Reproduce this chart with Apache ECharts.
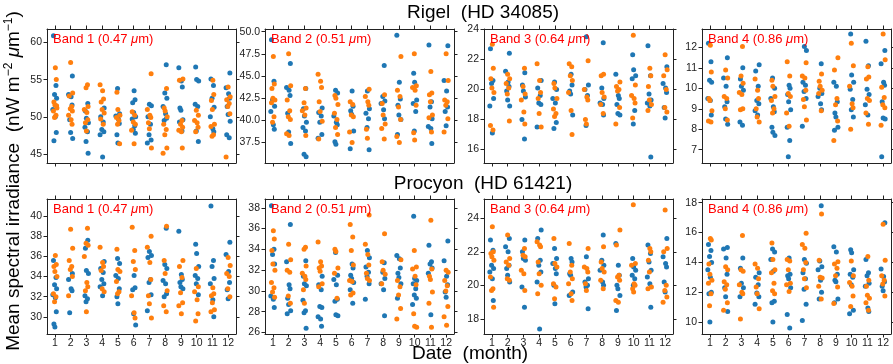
<!DOCTYPE html>
<html><head><meta charset="utf-8">
<script src="https://cdn.jsdelivr.net/npm/echarts@6/dist/echarts.min.js"></script>
<style>html,body{margin:0;padding:0;background:#fff}#c{width:893px;height:364px}</style>
</head><body><div id="c"></div>
<script>
const months = [1,2,3,4,5,6,7,8,9,10,11,12];
const monthTicks = [1,2,3,4,5,6,7,8,9,10,11,12];
const jitter = [-0.09, 0.07, -0.02, 0.11, -0.13, 0.03, 0.09, -0.06, 0.00, 0.13];

// Rigel (HD 34085)
const rigelB1Blue = [[60.9,54.2,53.0,52.5,51.0,50.0,47.9,46.8],[55.5,53.0,52.7,51.6,49.6,47.9,47.1],[51.8,50.8,49.8,49.2,48.6,48.0,46.7,45.1],[51.2,50.0,49.3,48.3,48.0,47.6,44.6],[53.8,50.4,50.1,49.7,49.1,47.6,46.5],[53.5,52.3,51.9,50.6,50.0,49.7,48.8,48.3,47.8],[51.7,51.5,50.0,49.0,47.6,46.9,46.5],[57.0,53.2,52.5,51.4,50.4,49.8,49.5],[56.6,54.8,54.0,51.2,50.9,49.6,49.3,48.1],[56.7,55.0,54.8,51.7,51.4,48.1,46.7],[55.1,54.2,52.5,51.3,50.0,48.4,48.0],[55.9,53.9,53.1,52.5,51.4,50.3,49.4,47.6,47.2]];
const rigelB1Orange = [[56.6,55.0,52.0,51.6,51.2,50.8,50.2,49.9,51.5],[57.3,53.2,52.8,51.4,51.1,50.8,50.2,49.6,49.0],[54.3,53.9,51.4,51.0,50.6,49.6,49.2,48.1],[54.3,53.5,52.4,52.0,51.0,50.5,49.7,49.0],[53.3,51.0,50.2,49.9,49.5,49.0,46.4],[50.7,50.2,49.3,49.0,48.2,46.4],[55.8,51.0,50.2,49.9,49.2,48.4,45.8],[53.8,51.2,50.8,50.0,49.0,48.3,47.6,45.8,45.1],[55.1,54.9,49.5,49.0,48.6,48.2,48.0,45.8],[50.9,50.2,49.5,49.2,48.6,48.0],[54.9,53.0,52.2,51.0,49.0,48.7,47.6,47.4],[54.0,52.7,52.3,51.8,51.4,50.4,44.6]];
const rigelB2Blue = [[49.1,44.4,42.3,41.6,41.0,39.5,39.0],[46.4,43.7,43.4,42.8,40.8,38.7,37.4],[43.6,41.3,40.5,39.8,39.2,38.8,36.2,35.9],[41.4,40.9,40.5,39.8,38.4,38.0],[43.4,43.1,40.5,39.8,39.5,37.6,37.3],[43.3,41.6,41.1,40.7,38.8,36.8],[43.3,41.3,40.8,40.2,39.2,36.7],[46.2,42.7,42.2,41.9,41.2,40.2],[49.6,44.3,42.4,41.7,40.6,40.1,38.4],[45.3,44.3,42.3,41.9,41.0,38.8],[48.5,42.1,41.5,40.2,39.3,39.1,37.4],[48.4,44.5,43.3,41.5,41.0,39.4]];
const rigelB2Orange = [[47.2,44.1,43.6,42.5,42.3,42.0,40.4,39.8],[47.5,43.9,42.3,41.1,40.4,40.1,38.5,38.3],[43.6,42.0,41.4,41.1,40.6,38.3],[45.2,44.4,43.7,42.1,41.0,39.9,37.9],[42.8,42.5,41.8,40.8,40.1,39.2,38.4],[42.1,41.8,40.6,40.4,38.7,37.5],[43.5,42.7,42.1,41.7,39.0,38.0],[42.9,41.9,40.6,39.6,39.1,37.9],[47.2,43.4,42.7,41.5,40.1,38.2,37.5],[47.5,43.9,43.7,43.4,41.7,38.6,37.8],[45.5,43.1,42.9,42.1,40.6,40.3,38.7],[47.5,44.5,42.3,42.1,41.7,40.2,38.7]];
const rigelB3Blue = [[22.7,20.6,20.4,19.4,18.9,17.1],[22.4,21.2,20.5,20.2,19.9,19.3,18.9],[21.1,20.3,19.9,19.5,18.0,16.7],[20.6,20.1,19.6,19.1,19.0,17.5],[20.5,20.0,19.4,19.1,17.8,17.4],[21.0,20.3,19.9,19.7,18.3],[23.5,20.3,20.0,19.6,17.6],[23.1,20.1,19.4,19.1,19.0,18.3],[21.0,19.6,19.4,19.0,18.4,18.3],[22.3,21.3,20.9,20.7,18.6,17.7],[22.9,20.9,19.7,19.3,19.1,18.9,15.5],[21.5,20.4,20.1,19.8,18.8,18.1]];
const rigelB3Orange = [[23.0,21.4,20.7,20.1,19.8,17.6,17.3],[21.0,20.7,20.4,20.1,19.7,17.9],[21.4,20.2,19.7,19.3,18.5,17.7],[21.7,20.6,19.8,19.4,18.4,17.5],[20.4,20.1,19.4,18.7,18.4,18.2],[21.7,21.5,20.9,20.6,19.8,18.6,17.0],[21.9,20.0,19.5,19.3,18.0,17.7],[21.0,20.9,19.8,19.5,19.0,18.4],[20.5,20.2,20.0,19.9,18.8,17.7],[23.6,20.3,19.6,19.4,19.1,18.1],[21.4,20.9,20.2,19.3,19.0,18.6],[22.3,21.3,20.9,20.0,18.8,18.5]];
const rigelB4Blue = [[12.2,11.3,10.4,10.3,9.5,9.4,8.7],[11.5,10.5,10.1,9.35,9.1,8.5,8.25],[11.0,10.45,10.1,9.9,8.35,8.2],[11.15,10.85,10.1,9.4,9.25,8.9,8.7],[10.5,10.0,9.5,9.1,8.85,8.1,7.85,7.7],[10.15,10.0,9.7,9.35,8.95,8.1,7.45,6.65],[12.05,11.85,10.3,10.15,9.85,9.5,8.15],[11.2,10.0,9.75,9.6,9.25,8.95],[10.3,10.1,9.35,8.8,8.6,8.1,7.95],[12.65,10.65,10.3,9.95,9.45,8.95,8.6],[12.3,11.1,9.95,9.7,9.2,8.7],[11.85,11.2,10.3,10.15,9.35,8.55,8.5,6.65]];
const rigelB4Orange = [[12.1,10.8,9.5,9.4,8.9,8.4,8.35],[10.9,10.5,9.6,9.5,9.0,8.45],[12.05,10.6,10.25,9.8,9.7,9.0,8.95],[10.45,9.9,9.5,9.0,8.6,8.35],[10.4,10.1,9.6,9.4,9.0,8.8],[11.3,10.6,9.75,9.6,8.8,8.15],[11.25,10.6,10.5,9.9,9.45,9.1,8.45],[10.7,10.35,10.1,9.9,9.75,8.9],[11.5,10.9,9.5,9.2,8.4,7.45],[12.2,11.1,10.1,9.25,9.05,8.0],[11.05,10.55,10.45,9.5,9.4,8.8,8.25],[12.65,11.4,10.05,9.55,9.2,9.05,8.2]];

// Procyon (HD 61421)
const procyonB1Blue = [[35.6,33.9,33.2,32.8,32.2,31.9,30.5,29.3,29.0],[34.3,33.7,32.8,32.6,30.4],[37.6,36.8,34.6,34.3,32.1,31.8,31.5],[35.5,34.8,34.4,33.7,33.3,33.0,32.1],[35.8,35.3,34.1,33.8,32.8,32.0,31.3],[34.1,32.9,32.7,30.3,29.2],[36.5,36.1,35.9,33.7,33.4,32.2,30.6],[38.8,35.2,34.8,33.6,33.3,32.3,32.0],[38.5,34.2,33.7,33.4,33.0,32.8],[37.2,36.3,35.0,34.1,33.8,33.3,32.2],[41.0,35.6,35.0,33.8,33.3,31.7,30.0],[37.4,36.2,34.5,33.4,32.7,31.8]];
const procyonB1Orange = [[36.1,35.2,35.0,34.5,34.0,32.3,32.0,31.5],[38.7,36.8,35.6,35.0,34.7,34.0,32.1],[38.8,37.3,37.1,36.0,33.4,33.0,32.6,30.5],[36.9,35.4,35.0,34.6,32.8,32.5],[36.7,34.7,34.5,33.5,32.5,32.3],[38.9,36.6,35.5,34.7,32.1,30.4,29.9],[38.0,36.9,35.4,33.7,32.1,31.3,29.9],[39.0,35.6,34.3,32.6,31.1,30.5],[35.6,35.0,33.9,32.4,31.4,31.1,30.3],[34.8,33.0,32.5,31.7,30.3,29.6],[32.9,32.3,32.1,31.4,30.7,30.5],[35.9,35.1,34.3,34.0,32.8,32.0]];
const procyonB2Blue = [[38.2,34.0,33.5,32.6,29.5,29.2,28.4],[36.4,32.8,30.6,30.2,29.3,28.7,28.1,27.8],[32.9,31.4,30.7,30.5,29.1,28.1,27.9,26.4],[31.4,30.6,30.1,28.5,28.4,27.5,27.3,26.6],[33.7,31.5,31.1,30.6,29.2,29.0,27.7,27.6],[32.6,32.2,31.5,31.2,30.8,30.1,28.8],[33.9,33.2,32.3,31.8,31.4,30.7,29.2],[32.7,31.8,31.2,30.7,30.1,27.6],[33.4,33.1,32.2,31.7,31.3,30.7,29.3],[37.2,31.2,31.0,30.7,30.2,29.6,29.3,28.7],[34.4,32.8,32.6,32.2,31.7,27.7],[34.8,32.9,31.4,30.6,29.9,29.4]];
const procyonB2Orange = [[35.8,35.0,33.9,32.6,32.0,30.8,30.3,29.9,29.4],[34.5,33.0,32.0,31.8,29.5,28.8],[34.2,34.0,32.4,31.7,31.4,31.1,30.1,28.8],[34.7,32.8,32.4,32.2,31.9,30.7,30.4],[34.0,33.8,32.2,31.7,29.3],[36.4,35.2,33.9,32.5,31.0,30.9,29.8,29.6],[37.3,34.5,33.5,32.5,31.7,31.2,31.0],[35.5,32.8,32.0,31.6,30.7],[33.0,31.0,30.4,29.6,28.3,27.3],[33.9,32.3,32.1,31.4,30.6,27.8,26.6,26.5],[36.8,32.1,31.4,31.1,29.9,28.8,26.5],[32.0,31.8,31.0,30.5,30.0,28.5,27.5,26.7]];
const procyonB3Blue = [[22.7,22.1,21.2,21.0,20.8,20.4,19.1],[22.8,22.3,22.0,21.2,21.0,20.6,20.2],[22.7,22.0,21.6,21.5,19.9,18.7],[23.3,22.8,21.5,21.2,20.8,20.2,17.4],[22.2,21.6,21.3,21.0,20.7,20.0,18.9],[21.6,21.4,20.7,20.6,19.6,19.4],[21.7,20.4,20.2,20.0,19.9,18.6],[23.0,21.5,21.2,20.9,20.2,20.0],[22.5,21.2,20.6,20.0,19.8,19.4,18.5],[21.6,21.1,20.9,20.6,20.4,20.0],[22.4,21.9,21.4,20.9,20.5,20.1,18.7],[22.8,21.7,21.3,21.1,20.2,19.6]];
const procyonB3Orange = [[23.5,22.0,21.9,21.7,21.5,20.5,19.8,19.7,18.7],[23.0,21.6,21.4,21.2,20.4,20.3],[22.2,21.8,21.7,20.9,20.7,19.7],[22.6,22.4,22.3,21.4,20.7,20.0,19.5],[22.8,21.3,21.1,20.1,19.9,19.2],[22.5,21.2,20.8,20.4,20.1,19.5,19.1],[22.2,21.1,21.0,20.8,20.1,19.7],[22.3,21.4,21.0,20.8,20.3,19.8],[23.3,22.4,20.6,20.5,20.3,19.1,19.0],[24.8,21.3,21.2,20.1,20.0,19.8,19.6],[22.2,22.0,21.5,20.8,19.9,19.8],[24.5,22.2,22.0,20.0,19.7,19.3,19.0]];
const procyonB4Blue = [[15.2,14.8,14.4,14.0,13.5,13.0,12.0,11.9,10.0],[15.0,14.9,14.3,13.2,12.3,11.7,10.7],[14.3,13.6,12.6,12.3,11.7],[13.3,13.0,12.5,11.95,11.7,11.2],[14.9,14.7,14.2,13.4,11.4,11.3,10.0],[14.3,13.2,13.1,12.9,12.3,10.5,9.6],[14.2,13.95,13.3,12.9,12.2,11.2,10.1],[17.8,14.1,13.7,13.5,12.8,12.0,11.55],[15.05,14.7,13.2,12.8,12.7,11.55,11.3],[14.85,14.65,13.5,13.2,13.0,12.5,10.8,10.55],[14.2,13.3,13.1,12.6,12.4,10.95,10.7],[16.65,13.55,13.05,12.7,12.4,12.1]];
const procyonB4Orange = [[15.6,15.5,13.9,13.2,12.8,12.6,11.9,11.1],[13.7,13.5,12.7,12.5,12.2,11.3,10.8],[15.8,13.5,13.4,12.5,12.0,11.9,10.2],[13.9,13.6,12.9,12.35,11.9,10.9],[15.3,14.2,13.5,13.3,12.6,12.1,11.9],[14.2,14.1,13.5,12.6,12.5,12.05],[15.95,15.2,14.95,14.0,13.5,12.9,12.3],[17.25,14.15,13.0,12.95,12.4,11.55],[14.05,13.9,13.6,13.1,12.35,11.25],[14.1,13.1,12.65,12.4,11.75,11.05],[14.4,12.8,12.4,11.8,11.6,11.3,10.8],[16.55,14.15,13.1,12.8,12.55,11.75]];

// y tick labels
const rigelB1Ticks = [45,50,55,60];
const rigelB2Ticks = [37.5,40,42.5,45,47.5,50];
const rigelB3Ticks = [16,18,20,22,24];
const rigelB4Ticks = [7,8,9,10,11,12];
const procyonB1Ticks = [30,32,34,36,38,40];
const procyonB2Ticks = [26,28,30,32,34,36,38];
const procyonB3Ticks = [18,20,22,24];
const procyonB4Ticks = [10,12,14,16,18];

const bandNames = ['1','2','3','4'];
const bandWaves = ['0.47','0.51','0.64','0.86'];
const starTitles = ['Rigel  (HD 34085)','Procyon  (HD 61421)'];

const panels = [
  {b:rigelB1Blue,o:rigelB1Orange,t:rigelB1Ticks,min:43.8,max:61.8,dec:0},
  {b:rigelB2Blue,o:rigelB2Orange,t:rigelB2Ticks,min:35.2,max:50.3,dec:1},
  {b:rigelB3Blue,o:rigelB3Orange,t:rigelB3Ticks,min:15.1,max:24.02,dec:0},
  {b:rigelB4Blue,o:rigelB4Orange,t:rigelB4Ticks,min:6.35,max:12.9,dec:0},
  {b:procyonB1Blue,o:procyonB1Orange,t:procyonB1Ticks,min:28.3,max:41.7,dec:0},
  {b:procyonB2Blue,o:procyonB2Orange,t:procyonB2Ticks,min:25.85,max:38.85,dec:0},
  {b:procyonB3Blue,o:procyonB3Orange,t:procyonB3Ticks,min:17.1,max:25.15,dec:0},
  {b:procyonB4Blue,o:procyonB4Orange,t:procyonB4Ticks,min:9.2,max:18.25,dec:0}
];

function toPoints(byMonth, start){
  const pts = [];
  byMonth.forEach((vals,i)=>vals.forEach((v,j)=>{
    pts.push([months[i] + jitter[(j + start + i*3) % jitter.length], v]);
  }));
  return pts;
}

const FONT = 'Liberation Sans, Arial, sans-serif';
const AX = '#222';
const lefts = [47, 265, 484, 702];
const tops = [29, 199];
const W = 189, H = [134, 135];

const grid = [], xAxis = [], yAxis = [], series = [], graphic = [];
panels.forEach((p,k)=>{
  const row = Math.floor(k/4), col = k%4;
  grid.push({left:lefts[col], top:tops[row], width:W, height:H[row]});
  const line = {show:true, onZero:false, lineStyle:{color:AX, width:1}};
  const tick = {show:true, inside:false, length:3.5, lineStyle:{color:AX, width:1}, customValues:monthTicks};
  xAxis.push({gridIndex:k, type:'value', position:'bottom', min:0.5, max:12.5,
    axisLine:line, axisTick:tick, splitLine:{show:false},
    axisLabel:{show:row===1, customValues:monthTicks, margin:4, fontSize:10.5, color:AX, fontFamily:FONT}});
  xAxis.push({gridIndex:k, type:'value', position:'top', min:0.5, max:12.5,
    axisLine:line, axisTick:tick, splitLine:{show:false}, axisLabel:{show:false}});
  const ytick = {show:true, inside:false, length:3.5, lineStyle:{color:AX, width:1}, customValues:p.t};
  yAxis.push({gridIndex:k, type:'value', position:'left', min:p.min, max:p.max,
    axisLine:line, axisTick:ytick, splitLine:{show:false},
    axisLabel:{customValues:p.t, margin:5, fontSize:10.5, color:AX, fontFamily:FONT,
      formatter:v=>Number(v).toFixed(p.dec)}});
  yAxis.push({gridIndex:k, type:'value', position:'right', min:p.min, max:p.max,
    axisLine:line, axisTick:ytick, splitLine:{show:false}, axisLabel:{show:false}});
  series.push({type:'scatter', xAxisIndex:2*k, yAxisIndex:2*k, data:toPoints(p.b,0),
    symbolSize:5, itemStyle:{color:'#1f77b4', opacity:1}, silent:true, animation:false});
  series.push({type:'scatter', xAxisIndex:2*k, yAxisIndex:2*k, data:toPoints(p.o,5),
    symbolSize:5, itemStyle:{color:'#ff7f0e', opacity:1}, silent:true, animation:false});
  graphic.push({type:'text', x:lefts[col]+6, y:tops[row]+4, z:100,
    style:{text:'Band '+bandNames[col]+' ('+bandWaves[col]+' {it|μ}m)', fill:'#ff0000',
      font:'13px '+FONT, verticalAlign:'top',
      rich:{it:{fontStyle:'italic', fontSize:13, fontFamily:FONT, fill:'#ff0000'}}}});
});

graphic.push({type:'text', x:483, y:3, style:{text:starTitles[0], font:'19px '+FONT, fill:'#000', align:'center', verticalAlign:'top'}});
graphic.push({type:'text', x:483, y:174, style:{text:starTitles[1], font:'19px '+FONT, fill:'#000', align:'center', verticalAlign:'top'}});
graphic.push({type:'text', x:470, y:344, style:{text:'Date  (month)', font:'19px '+FONT, fill:'#000', align:'center', verticalAlign:'top'}});
graphic.push({type:'text', x:14, y:181, rotation:Math.PI/2,
  style:{text:'Mean spectral irradiance  (nW m{sup|−2} {it|μ}m{sup|−1})', font:'19px '+FONT, fill:'#000',
    align:'center', verticalAlign:'middle', lineHeight:22,
    rich:{sup:{fontSize:12, fontFamily:FONT, verticalAlign:'top', lineHeight:14, fill:'#000'},
          it:{fontStyle:'italic', fontSize:19, fontFamily:FONT, fill:'#000'}}}});

const chart = echarts.init(document.getElementById('c'), null, {renderer:'canvas'});
chart.setOption({animation:false, backgroundColor:'#fff', grid, xAxis, yAxis, series, graphic});
</script></body></html>
